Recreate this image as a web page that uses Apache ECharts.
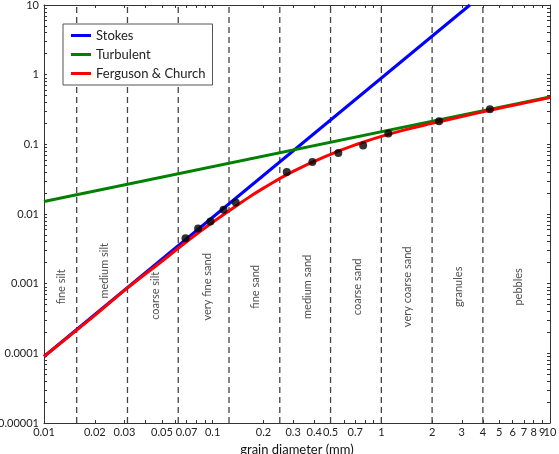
<!DOCTYPE html>
<html>
<head>
<meta charset="utf-8">
<script src="https://cdn.jsdelivr.net/npm/echarts@6/dist/echarts.min.js"></script>
<style>
  html, body { margin: 0; padding: 0; background: #fff; }
  #chart { width: 559px; height: 454px; }
</style>
</head>
<body>
<div id="chart"></div>
<script>
// grain diameter (mm) vs settling velocity (m/s)
var stokesD = [0.01, 3.35];
var stokesW = [0.00009, 10];

var turbD = [0.01, 10];
var turbW = [0.0151, 0.48];

var fcD = [0.01, 0.02, 0.03, 0.05, 0.07, 0.1, 0.15, 0.2, 0.3, 0.5, 0.7, 1, 1.5, 2, 3, 5, 7, 10];
var fcW = [0.00009, 0.00035, 0.0008, 0.0021, 0.004, 0.0076, 0.015, 0.0235, 0.041, 0.072, 0.098, 0.13, 0.17, 0.2, 0.25, 0.33, 0.39, 0.47];

var dotD = [0.069, 0.082, 0.097, 0.116, 0.137, 0.275, 0.39, 0.556, 0.78, 1.1, 2.2, 4.4];
var dotW = [0.0045, 0.0062, 0.0078, 0.0115, 0.0146, 0.040, 0.056, 0.075, 0.096, 0.143, 0.215, 0.32];

// Wentworth class boundaries and names
var classBounds = [0.015625, 0.03125, 0.0625, 0.125, 0.25, 0.5, 1, 2, 4];
var classNames = ['fine silt', 'medium silt', 'coarse silt', 'very fine sand', 'fine sand',
    'medium sand', 'coarse sand', 'very coarse sand', 'granules', 'pebbles'];
var classLabelD = [0.0127, 0.0227, 0.0457, 0.093, 0.179, 0.365, 0.724, 1.435, 2.88, 6.46];
var classLabelW = [0.0009, 0.00153, 0.00067, 0.0009, 0.0009, 0.0009, 0.0009, 0.0009, 0.0009, 0.0009];

var xLabels = [0.01, 0.02, 0.03, 0.05, 0.07, 0.1, 0.2, 0.3, 0.4, 0.5, 0.7, 1, 2, 3, 4, 5, 6, 7, 8, 10];
var xLabelsCrowded = [9]; // squeezed against 10, drawn on its own axis
var yLabels = [0.00001, 0.0001, 0.001, 0.01, 0.1, 1, 10];
var yMin = 0.00001, yMax = 10;

function logTicks(lo, hi) {
    var out = [];
    for (var e = lo; e < hi; e++) {
        for (var m = 1; m < 10; m++) out.push(m * Math.pow(10, e));
    }
    out.push(Math.pow(10, hi));
    return out;
}
var xTicks = logTicks(-2, 1);
var yTicks = logTicks(-5, 1);

function pairs(a, b) {
    return a.map(function (v, i) { return [v, b[i]]; });
}

var font = 'Lato, "Open Sans", sans-serif';
var axisColor = '#333';

function xAx(pos, labels, withName, withLine) {
    return {
        type: 'log', position: pos, min: 0.01, max: 10,
        name: withName ? 'grain diameter (mm)' : '',
        nameLocation: 'middle', nameGap: 18,
        nameTextStyle: { fontFamily: font, fontSize: 13, color: '#111' },
        axisLine: { show: withLine, onZero: false, lineStyle: { color: axisColor, width: 1 } },
        axisTick: { show: withLine, inside: true, length: 3, customValues: xTicks, lineStyle: { color: axisColor } },
        axisLabel: {
            show: !!labels, customValues: labels || xLabels, margin: 4, hideOverlap: false,
            showMinLabel: true, showMaxLabel: true,
            fontFamily: font, fontSize: 11, color: '#222',
            formatter: function (v) { return String(+(+v).toPrecision(3)); }
        },
        splitLine: { show: false }
    };
}

function yAx(pos, labels) {
    return {
        type: 'log', position: pos, min: yMin, max: yMax,
        name: labels ? 'settling velocity (m/s)' : '',
        nameLocation: 'middle', nameGap: 32,
        nameTextStyle: { fontFamily: font, fontSize: 13, color: '#111' },
        axisLine: { show: true, onZero: false, lineStyle: { color: axisColor, width: 1 } },
        axisTick: { show: true, inside: true, length: 3, customValues: yTicks, lineStyle: { color: axisColor } },
        axisLabel: {
            show: labels, customValues: yLabels, margin: 5, hideOverlap: false,
            showMinLabel: true, showMaxLabel: true,
            fontFamily: font, fontSize: 11, color: '#222',
            formatter: function (v) {
                if (v >= 1) return String(Math.round(v));
                return v.toFixed(Math.round(-Math.log10(v)));
            }
        },
        splitLine: { show: false }
    };
}

// one dashed vertical line per class boundary
var boundSeries = classBounds.map(function (b) {
    return {
        name: 'bound', type: 'line', z: 1, silent: true, symbol: 'none',
        data: [[b, yMin], [b, yMax]],
        lineStyle: { color: '#444', type: [6, 4], width: 1.3 }
    };
});

var chart = echarts.init(document.getElementById('chart'));

var option = {
    animation: false,
    backgroundColor: '#fff',
    grid: { left: 44, right: 9, top: 5, bottom: 31, containLabel: false, outerBoundsMode: 'none' },
    legend: {
        left: 63, top: 24, orient: 'vertical',
        data: ['Stokes', 'Turbulent', 'Ferguson & Church'],
        icon: 'rect', itemWidth: 20, itemHeight: 3, itemGap: 6,
        padding: [5, 7, 5, 8],
        backgroundColor: '#fff', borderColor: '#555', borderWidth: 1,
        textStyle: { fontFamily: font, fontSize: 13, color: '#222' }
    },
    xAxis: [
        xAx('bottom', xLabels, true, true),
        xAx('top', null, false, true),
        xAx('bottom', xLabelsCrowded, false, false)
    ],
    yAxis: [yAx('left', true), yAx('right', false)],
    series: boundSeries.concat([
        {
            name: 'Stokes', type: 'line', data: pairs(stokesD, stokesW), z: 3,
            symbol: 'none', color: '#0000ff', lineStyle: { width: 3 }
        },
        {
            name: 'Turbulent', type: 'line', data: pairs(turbD, turbW), z: 3,
            symbol: 'none', color: '#008000', lineStyle: { width: 3 }
        },
        {
            name: 'Ferguson & Church', type: 'line', data: pairs(fcD, fcW), z: 4,
            smooth: true, symbol: 'none', color: '#ff0000', lineStyle: { width: 3 }
        },
        {
            name: 'measured', type: 'scatter', data: pairs(dotD, dotW), z: 5,
            symbol: 'circle', symbolSize: 8, itemStyle: { color: '#000' }
        },
        {
            name: 'classes', type: 'scatter', z: 2, silent: true,
            symbolSize: 0,
            data: classNames.map(function (n, i) {
                return { name: n, value: [classLabelD[i], classLabelW[i]] };
            }),
            label: {
                show: true, position: 'inside', rotate: 90,
                formatter: '{b}', fontFamily: font, fontSize: 11, color: '#222'
            }
        }
    ])
};

chart.setOption(option);
</script>
</body>
</html>
